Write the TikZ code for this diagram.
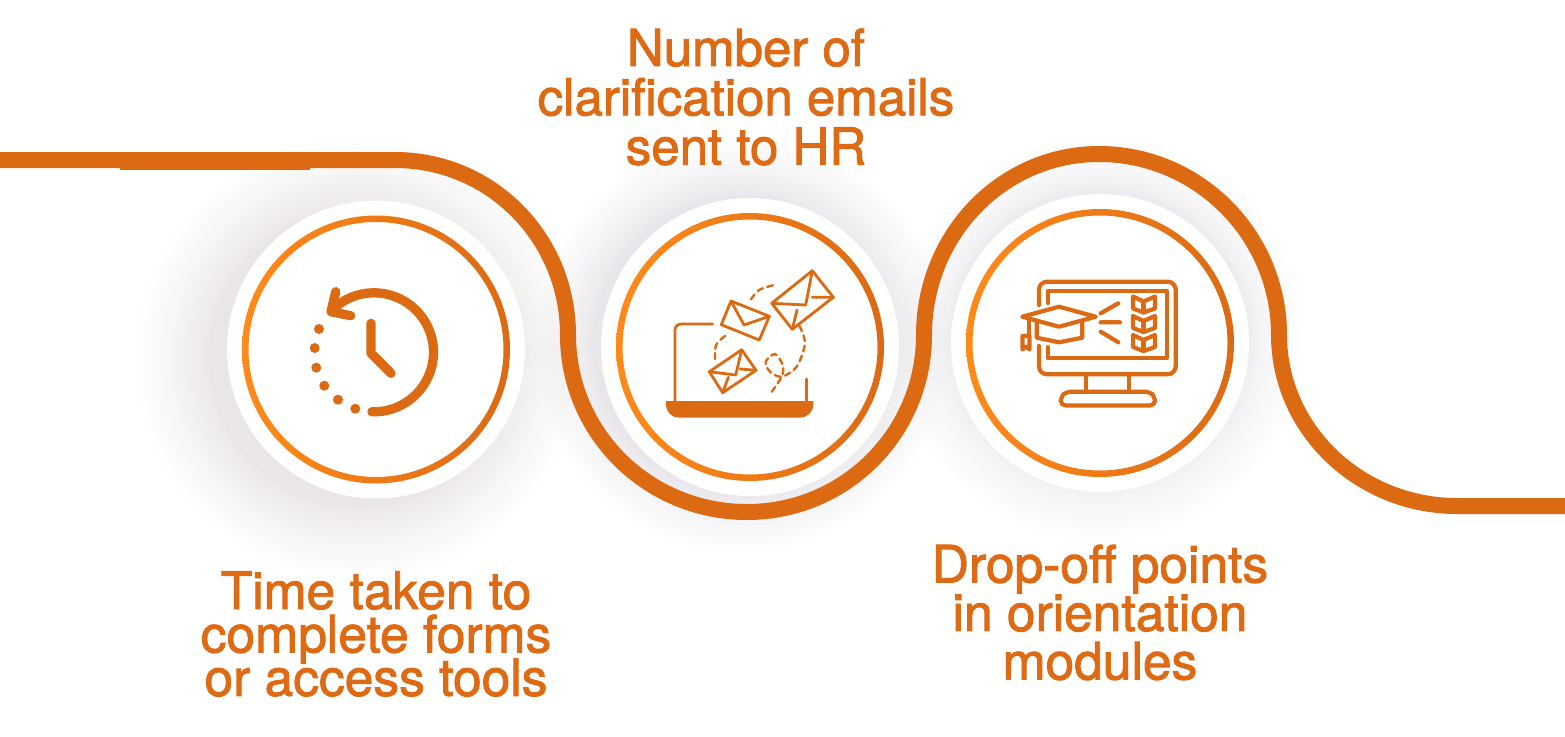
\documentclass[tikz,border=0pt]{standalone}
\usepackage{fontspec}
\newfontfamily\lab[FakeBold=1.8]{TeX Gyre Heros}
\definecolor{rib}{HTML}{DC6A13}
\definecolor{hot}{HTML}{FF8A1A}
\definecolor{ink}{HTML}{DE6A14}
\definecolor{shadeA}{HTML}{B0A09C}
\definecolor{shadeB}{HTML}{A89FB0}
\newcommand{\softglow}[5]{%
  \foreach \ii in {1,...,26}{\pgfmathsetmacro{\rr}{149+(#4-149)*pow(\ii/26,1.7)}\fill[#3,fill opacity=#5] (#1,#2) circle (\rr);}}
\newcommand{\ringdisc}[3]{%
  \shade[even odd rule,shading angle=#3,left color=hot,right color=rib] (#1,#2) circle (134) (#1,#2) circle (127.5);}
\tikzset{
  ribbon/.style={draw=rib,line width=16pt},
  disc/.style={circle,fill=white,minimum size=298pt,inner sep=0pt},
  icon/.style={draw=rib,line width=2.8pt,line cap=round,line join=round},
  iconb/.style={draw=rib,line width=4.2pt,line cap=round,line join=round},
  clockl/.style={draw=rib,line width=9.3pt,line cap=round,line join=round},
  dashl/.style={draw=rib,line width=2.4pt,dash pattern=on 6pt off 4.5pt,line cap=round},
  lbl/.style={text=ink,align=center,inner sep=0pt,font=\lab}
}
\lineskiplimit=-100pt
\begin{document}
\begin{tikzpicture}[x=1pt,y=-1pt]
\useasboundingbox (0,0) rectangle (1565,736);
% shadows
\softglow{358}{358}{shadeA}{222}{0.012}
\softglow{742}{345}{shadeB}{208}{0.013}
\softglow{1100}{338}{shadeB}{204}{0.009}
% ribbon
\fill[rib] (120,152) rectangle (310,170);
\draw[ribbon] (0,160) -- (395,160)
  .. controls (491,160) and (568,238) .. (568,335)
  .. controls (568,433) and (648,512) .. (747,512)
  .. controls (845,512) and (924,433) .. (924,335)
  .. controls (924,235) and (1002,154) .. (1099,154)
  .. controls (1198,154) and (1279,235) .. (1279,335)
  .. controls (1279,429) and (1359,506) .. (1457,506)
  -- (1565,506);
% discs
\node[disc] (c1) at (376,349.5) {};
\node[disc] (c2) at (750,347) {};
\node[disc] (c3) at (1100,343) {};
\ringdisc{376}{349.5}{60}
\ringdisc{750}{347}{75}
\ringdisc{1100}{343}{-80}
% clock
\draw[clockl] plot[domain=92:-128,samples=60,smooth] ({374+59.5*cos(\x)},{352.3+59.5*sin(\x)});
\draw[clockl] (335.7,291.7) -- (331,311.7) -- (350.7,315.7);
\draw[clockl] (371,323.3) -- (371,353.3) -- (391,373.3);
\foreach \px/\py in {319/329,314.7/348,316.3/367.7,324.3/385.7,338/399.7,355.3/408.7}
  \fill[rib] (\px,\py) circle (5);
% laptop
\fill[rib] (666,401) -- (813.3,401) -- (813.3,404.7) .. controls (813.3,412) and (807,417.7) .. (800.3,417.7)
  -- (679,417.7) .. controls (672,417.7) and (666,412) .. (666,404.7) -- cycle;
\draw[icon,rounded corners=6pt] (712.7,324) -- (675,324) -- (675,402);
\draw[icon] (806.3,379) -- (806.3,402);
\draw[icon] (812.3,270.7) -- (833.3,297.3) -- (792.3,329.3) -- (771.7,303.3) -- cycle;
\draw[icon] (771.7,303.3) -- (805.7,305) -- (812.3,270.7);
\draw[icon] (812.3,297.3) -- (833.3,297.3) (797,310) -- (792.3,329.3);
\draw[icon] (731,301) -- (769.3,316.3) -- (759.3,340) -- (721.3,324.7) -- cycle;
\draw[icon] (731,301) -- (744,325) -- (769.3,316.3);
\draw[icon] (741.7,349.7) -- (756,370.3) -- (722.7,392.7) -- (709.3,371.7) -- cycle;
\draw[icon] (709.3,371.7) -- (735.7,375) -- (741.7,349.7);
\draw[icon] (740,369) -- (756,370.3) (728.3,377.3) -- (722.7,392.7);
\draw[dashl] plot[smooth] coordinates {(751,299.3) (759,290) (774,285)};
\draw[dashl] plot[smooth] coordinates {(725,336) (716,345) (715,359.3)};
\draw[dashl] plot[smooth] coordinates {(799.3,325.7) (805,343.3) (796.7,366.7) (781.7,376.7) (770,371.7) (765.7,361.7) (775,354) (782.7,365) (781.7,376.7) (771.7,391.7)};
% monitor
\draw[iconb,rounded corners=8pt] (1039,305) -- (1039,281.7) -- (1175.7,281.7) -- (1175.7,374.3) -- (1039,374.3) -- (1039,346);
\draw[iconb] (1047.7,303) -- (1047.7,290.7) -- (1166.7,290.7) -- (1166.7,358.3) -- (1047.7,358.3) -- (1047.7,347);
\draw[iconb] (1086,374.3) -- (1086,391) (1129.3,374.3) -- (1129.3,391);
\draw[iconb,rounded corners=5pt] (1060.7,405.5) -- (1060.7,397) -- (1066,391.7) -- (1150,391.7) -- (1155,397) -- (1155,405.5) -- cycle;
\draw[iconb] (1022.3,316.7) -- (1059,306.7) -- (1095.7,316.7) -- (1059,326.7) -- cycle;
\draw[iconb] (1036.7,321.7) -- (1036.7,337.7) -- (1059,342.3) -- (1082.3,337.7) -- (1082.3,321.7);
\draw[iconb] (1029,319) -- (1029,335);
\draw[iconb] (1022.5,336) -- (1029.5,336) -- (1029.5,349.5) -- (1026,346.5) -- (1022.5,349.5) -- cycle;
\draw[iconb] (1100.7,313.3) -- (1118.3,303.3) (1100.7,322.3) -- (1120,322.3) (1100.7,331.7) -- (1118.3,342.3);
\foreach \yy in {296.5,316,335}{
  \draw[iconb] (1133,\yy) -- (1143.5,\yy+5) -- (1155,\yy) -- (1155,\yy+12) -- (1143.5,\yy+16) -- (1133,\yy+12) -- cycle;
  \draw[iconb] (1143.5,\yy+5) -- (1143.5,\yy+16);
}
% labels
\node[lbl,font=\lab\fontsize{51}{49.3}\selectfont] (t2) at (746,97) {Number of\\clarification emails\\sent to HR};
\node[lbl,font=\lab\fontsize{51.5}{43.4}\selectfont] (t1) at (376,634) {Time taken to\\complete forms\\or access tools};
\node[lbl,font=\lab\fontsize{51.5}{48.5}\selectfont] (t3) at (1100,612.5) {Drop-off points\\in orientation\\modules};
\end{tikzpicture}
\end{document}
